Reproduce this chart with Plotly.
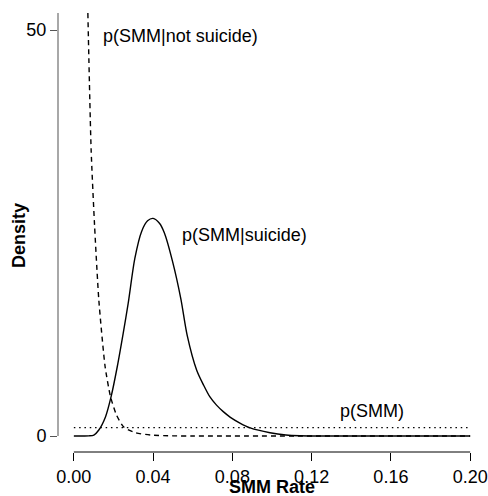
import plotly.graph_objects as go

# p(SMM|suicide) - solid curve
suicide_x = [0.0, 0.005, 0.0076, 0.0101, 0.0126, 0.016, 0.0188, 0.0219, 0.0249, 0.0274,
             0.0308, 0.0342, 0.0372, 0.040, 0.0432, 0.0457, 0.0498, 0.054, 0.0572, 0.062,
             0.0654, 0.0686, 0.072, 0.0754, 0.079, 0.0838, 0.089, 0.099, 0.107, 0.114,
             0.13, 0.2]
suicide_y = [0.0, 0.0, 0.02, 0.12, 0.74, 2.38, 4.84, 8.53, 12.65, 16.3,
             21.9, 25.2, 26.5, 26.8, 26.2, 25.0, 21.5, 16.9, 12.4, 8.1,
             6.3, 4.84, 3.8, 3.0, 2.3, 1.6, 1.0, 0.4, 0.12, 0.03,
             0.0, 0.0]

# p(SMM|not suicide) - dashed curve
notsuicide_x = [0.00707, 0.00873, 0.01044, 0.01262, 0.0158, 0.0185, 0.0215, 0.0252,
                0.0311, 0.0387, 0.05, 0.06, 0.2]
notsuicide_y = [52.1, 35.2, 26.0, 16.7, 8.5, 4.84, 2.6, 1.1,
                0.4, 0.12, 0.02, 0.0, 0.0]

# p(SMM) - dotted horizontal line
smm_x = [0.0, 0.2]
smm_y = [1.02, 1.02]

x_ticks = [0.00, 0.04, 0.08, 0.12, 0.16, 0.20]
x_tick_labels = ["0.00", "0.04", "0.08", "0.12", "0.16", "0.20"]
y_ticks = [0, 50]
y_tick_labels = ["0", "50"]

FONT = "Liberation Sans, Arial, Helvetica, sans-serif"

fig = go.Figure()
fig.add_trace(go.Scatter(x=suicide_x, y=suicide_y, mode="lines",
                         line=dict(color="black", width=1.4, shape="spline", smoothing=0.8),
                         showlegend=False, hoverinfo="skip"))
fig.add_trace(go.Scatter(x=notsuicide_x, y=notsuicide_y, mode="lines",
                         line=dict(color="black", width=1.4, dash="5px,4px", shape="spline", smoothing=0.6),
                         showlegend=False, hoverinfo="skip"))
fig.add_trace(go.Scatter(x=smm_x, y=smm_y, mode="lines",
                         line=dict(color="black", width=1.2, dash="1.5px,3.8px"),
                         showlegend=False, hoverinfo="skip"))

fig.update_layout(
    width=488, height=496,
    margin=dict(l=58, r=2, t=13, b=44),
    paper_bgcolor="white", plot_bgcolor="white",
    font=dict(family=FONT, size=18, color="black"),
    xaxis=dict(range=[-0.008, 0.208], tickvals=x_ticks, ticktext=x_tick_labels,
               ticks="outside", ticklen=8, tickwidth=1, tickcolor="black",
               showgrid=False, zeroline=False, showline=False, automargin=False,
               tickfont=dict(family=FONT, size=18, color="black")),
    yaxis=dict(range=[-1.97, 52.1], tickvals=y_ticks, ticktext=y_tick_labels,
               ticks="outside", ticklen=7, tickwidth=1, tickcolor="#555555",
               showgrid=False, zeroline=False, showline=False, automargin=False,
               tickfont=dict(family=FONT, size=18, color="black")),
    shapes=[
        dict(type="line", xref="x", yref="paper", x0=0, x1=0.2, y0=0, y1=0,
             line=dict(color="black", width=1)),
        dict(type="line", xref="paper", yref="y", x0=0, x1=0, y0=0, y1=52.1,
             line=dict(color="#6e6e6e", width=1.2)),
    ],
    annotations=[
        dict(text="p(SMM|not suicide)", x=0.054, y=49.3, xref="x", yref="y",
             showarrow=False, xanchor="center", yanchor="middle",
             font=dict(family=FONT, size=18, color="black")),
        dict(text="p(SMM|suicide)", x=0.0861, y=24.8, xref="x", yref="y",
             showarrow=False, xanchor="center", yanchor="middle",
             font=dict(family=FONT, size=18, color="black")),
        dict(text="p(SMM)", x=0.1504, y=3.08, xref="x", yref="y",
             showarrow=False, xanchor="center", yanchor="middle",
             font=dict(family=FONT, size=18, color="black")),
        dict(text="<b>SMM Rate</b>", x=(272 - 58) / 428, y=(452 - 487) / 439,
             xref="paper", yref="paper", showarrow=False,
             xanchor="center", yanchor="middle",
             font=dict(family=FONT, size=18, color="black")),
        dict(text="<b>Density</b>", x=(19 - 58) / 428, y=(452 - 236) / 439,
             xref="paper", yref="paper", showarrow=False, textangle=-90,
             xanchor="center", yanchor="middle",
             font=dict(family=FONT, size=18, color="black")),
    ],
)

fig.write_html("out.html", config={"displayModeBar": False},
               post_script="document.body.style.margin='0';document.body.style.padding='0';")
